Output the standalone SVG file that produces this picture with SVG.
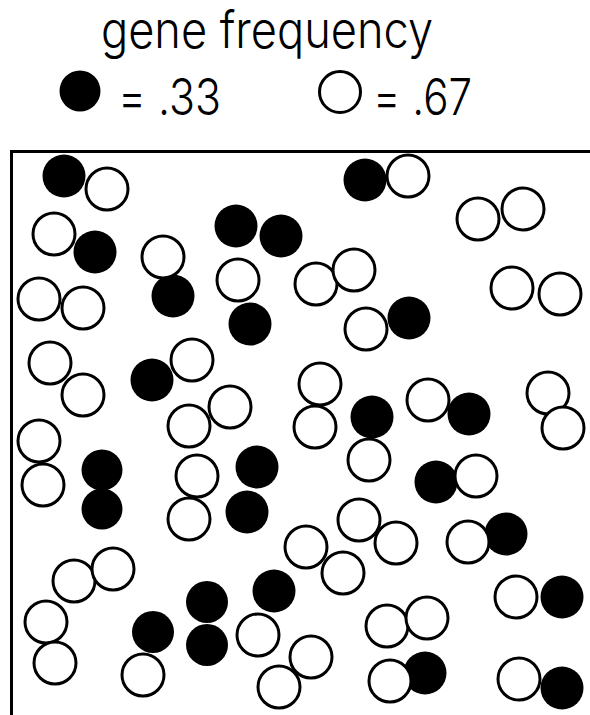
<svg xmlns="http://www.w3.org/2000/svg" width="590" height="715" viewBox="0 0 590 715">
<style>
.t{font-family:Inter,"Liberation Sans",Arial,sans-serif;font-weight:300;font-size:51px;fill:#000}
.b{fill:#000}
.o{fill:#fff;stroke:#000;stroke-width:3}
.f{stroke:#000;stroke-width:3;fill:none}
</style>
<rect width="590" height="715" fill="#fff"/>
<g id="title">
<text class="t" x="101" y="48" textLength="332" lengthAdjust="spacingAndGlyphs">gene frequency</text>
</g>
<g id="legend">
<circle class="b" cx="80" cy="91" r="20.5"/>
<text class="t" x="118" y="115" textLength="103" lengthAdjust="spacingAndGlyphs">= .33</text>
<circle class="o" cx="340" cy="92" r="20.5"/>
<text class="t" x="373" y="115" textLength="99" lengthAdjust="spacingAndGlyphs">= .67</text>
</g>
<g id="frame">
<path class="f" d="M10 151.5H590M11.5 150V715"/>
</g>
<g id="dark-alleles">
<circle class="b" cx="64" cy="176" r="21.5"/>
<circle class="b" cx="95" cy="252" r="21.5"/>
<circle class="b" cx="173" cy="296" r="21.5"/>
<circle class="b" cx="236" cy="226" r="21.5"/>
<circle class="b" cx="281" cy="236" r="21.5"/>
<circle class="b" cx="250" cy="324" r="21.5"/>
<circle class="b" cx="365" cy="180" r="21.5"/>
<circle class="b" cx="409" cy="318" r="21.5"/>
<circle class="b" cx="152" cy="380" r="21.5"/>
<circle class="b" cx="102" cy="470" r="20.5"/>
<circle class="b" cx="102" cy="509" r="20.5"/>
<circle class="b" cx="257" cy="467" r="21.5"/>
<circle class="b" cx="247" cy="512" r="21.5"/>
<circle class="b" cx="372" cy="417" r="21.5"/>
<circle class="b" cx="469" cy="414" r="21.5"/>
<circle class="b" cx="436" cy="482" r="21.5"/>
<circle class="b" cx="506" cy="534" r="21.5"/>
<circle class="b" cx="562" cy="597" r="21.5"/>
<circle class="b" cx="425" cy="673" r="21.5"/>
<circle class="b" cx="562" cy="688" r="21.5"/>
<circle class="b" cx="153" cy="632" r="21"/>
<circle class="b" cx="207" cy="602" r="21"/>
<circle class="b" cx="207" cy="645" r="21"/>
<circle class="b" cx="274" cy="591" r="21.5"/>
</g>
<g id="light-alleles">
<circle class="o" cx="107" cy="189" r="21"/>
<circle class="o" cx="54" cy="234" r="21"/>
<circle class="o" cx="163" cy="257" r="21"/>
<circle class="o" cx="238" cy="280" r="21"/>
<circle class="o" cx="39" cy="299" r="21"/>
<circle class="o" cx="83" cy="308" r="21"/>
<circle class="o" cx="408" cy="176" r="21"/>
<circle class="o" cx="478" cy="219" r="21"/>
<circle class="o" cx="523" cy="209" r="21"/>
<circle class="o" cx="316" cy="284" r="21"/>
<circle class="o" cx="354" cy="270" r="21"/>
<circle class="o" cx="512" cy="288" r="21"/>
<circle class="o" cx="560" cy="294" r="21"/>
<circle class="o" cx="366" cy="329" r="21"/>
<circle class="o" cx="50" cy="363" r="21"/>
<circle class="o" cx="83" cy="395" r="21"/>
<circle class="o" cx="192" cy="360" r="21"/>
<circle class="o" cx="230" cy="407" r="21"/>
<circle class="o" cx="189" cy="426" r="21"/>
<circle class="o" cx="39" cy="441" r="21"/>
<circle class="o" cx="43" cy="485" r="21"/>
<circle class="o" cx="197" cy="476" r="21"/>
<circle class="o" cx="189" cy="519" r="21"/>
<circle class="o" cx="320" cy="384" r="21"/>
<circle class="o" cx="315" cy="427" r="21"/>
<circle class="o" cx="369" cy="460" r="21"/>
<circle class="o" cx="428" cy="400" r="21"/>
<circle class="o" cx="548" cy="393" r="21"/>
<circle class="o" cx="563" cy="428" r="21"/>
<circle class="o" cx="476" cy="476" r="21"/>
<circle class="o" cx="359" cy="520" r="21"/>
<circle class="o" cx="306" cy="547" r="21"/>
<circle class="o" cx="343" cy="573" r="21"/>
<circle class="o" cx="396" cy="543" r="21"/>
<circle class="o" cx="468" cy="542" r="21"/>
<circle class="o" cx="516" cy="597" r="21"/>
<circle class="o" cx="387" cy="626" r="21"/>
<circle class="o" cx="427" cy="618" r="21"/>
<circle class="o" cx="311" cy="657" r="21"/>
<circle class="o" cx="279" cy="687" r="21"/>
<circle class="o" cx="390" cy="681" r="21"/>
<circle class="o" cx="519" cy="679" r="21"/>
<circle class="o" cx="74" cy="581" r="21"/>
<circle class="o" cx="113" cy="569" r="21"/>
<circle class="o" cx="46" cy="622" r="21"/>
<circle class="o" cx="55" cy="663" r="21"/>
<circle class="o" cx="143" cy="675" r="21"/>
<circle class="o" cx="258" cy="635" r="21"/>
</g>
</svg>
